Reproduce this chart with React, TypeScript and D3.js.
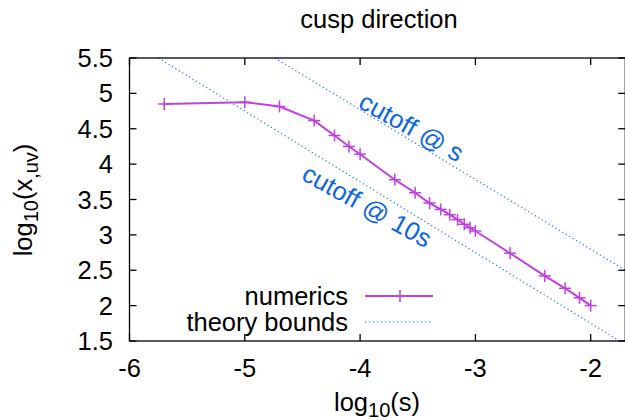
import React from 'react'
import * as d3 from 'd3'

const width = 625
const height = 420
const margin = {top: 58, right: 0, bottom: 79, left: 129.5}

// numerics: log10(s) vs log10(x_uv)
const logS = [-5.699, -5, -4.699, -4.398, -4.222, -4.097, -4, -3.699, -3.523, -3.398, -3.301,
  -3.222, -3.155, -3.097, -3.046, -3, -2.699, -2.398, -2.222, -2.097, -2]
const logXuv = [4.85, 4.875, 4.815, 4.615, 4.405, 4.25, 4.14, 3.78, 3.595, 3.45, 3.36,
  3.285, 3.215, 3.15, 3.1, 3.055, 2.74, 2.42, 2.245, 2.11, 2.0]

// theory bounds (end points of the dotted lines)
const cutoffSX = [-4.74, -1.7]
const cutoffSY = [5.5, 2.5]
const cutoff10sX = [-5.75, -1.75]
const cutoff10sY = [5.5, 1.5]

const xTicks = [-6, -5, -4, -3, -2]
const yTicks = [1.5, 2, 2.5, 3, 3.5, 4, 4.5, 5, 5.5]

const purple = '#c040e0'
const blue = '#0a64e6'
const dotBlue = '#2a78f0'
const font = '"Liberation Sans", Arial, sans-serif'
const fs = 25.5
const sub = 20

export default function App() {
  const x = d3.scaleLinear().domain([-6, -1.7]).range([margin.left, 625.3])
  const y = d3.scaleLinear().domain([1.5, 5.5]).range([height - margin.bottom, margin.top])

  const line = d3.line<number>().x((d, i) => x(logS[i])).y(d => y(d))
  const boundLine = (xs: number[], ys: number[]) =>
    d3.line<number>().x(d => x(d)).y((d, i) => y(ys[i]))(xs) || ''

  const x0 = x.range()[0], x1 = x.range()[1]
  const y0 = y.range()[0], y1 = y.range()[1]
  const tick = 7

  const cross = (cx: number, cy: number, key: any) => (
    <g key={key} stroke={purple} strokeWidth={1.5}>
      <line x1={cx - 6} x2={cx + 6} y1={cy} y2={cy} />
      <line x1={cx} x2={cx} y1={cy - 6} y2={cy + 6} />
    </g>
  )

  return (
    <svg width={width} height={height} style={{position: 'absolute', left: 0, top: 0, background: '#fff'}}
      fontFamily={font}>
      <defs>
        <clipPath id="plot">
          <rect x={x0} y={y1} width={x1 - x0} height={y0 - y1} />
        </clipPath>
      </defs>

      <text x={379} y={28} fontSize={fs} textAnchor="middle">cusp direction</text>

      {/* theory bounds */}
      <g clipPath="url(#plot)" fill="none" stroke={dotBlue} strokeWidth={1.2} strokeDasharray="1.3,2.7">
        <path d={boundLine(cutoffSX, cutoffSY)} />
        <path d={boundLine(cutoff10sX, cutoff10sY)} />
      </g>

      {/* numerics */}
      <path d={line(logXuv) || ''} fill="none" stroke={purple} strokeWidth={2} />
      {logXuv.map((v, i) => cross(x(logS[i]), y(v), i))}

      {/* rotated labels */}
      <text x={x(-3.554)} y={y(4.525)} fontSize={fs} fill={blue} textAnchor="middle" dominantBaseline="central"
        transform={`rotate(29, ${x(-3.554)}, ${y(4.525)})`}>cutoff @ s</text>
      <text x={x(-3.939)} y={y(3.411)} fontSize={fs} fill={blue} textAnchor="middle" dominantBaseline="central"
        transform={`rotate(29, ${x(-3.939)}, ${y(3.411)})`}>cutoff @ 10s</text>

      {/* legend */}
      <text x={348} y={305} fontSize={fs} textAnchor="end">numerics</text>
      <line x1={365} x2={433} y1={296} y2={296} stroke={purple} strokeWidth={2} />
      {cross(400, 296, 'leg')}
      <text x={348} y={331} fontSize={fs} textAnchor="end">theory bounds</text>
      <line x1={365} x2={433} y1={322} y2={322} stroke={dotBlue} strokeWidth={1.2} strokeDasharray="1.3,2.7" />

      {/* frame and ticks */}
      <g stroke="#000" strokeWidth={1.3}>
        {xTicks.map(t => (
          <g key={'xt' + t}>
            <line x1={x(t)} x2={x(t)} y1={y0} y2={y0 - tick} />
            <line x1={x(t)} x2={x(t)} y1={y1} y2={y1 + tick} />
          </g>
        ))}
        {yTicks.map(t => (
          <g key={'yt' + t}>
            <line x1={x0} x2={x0 + tick} y1={y(t)} y2={y(t)} />
            <line x1={x1} x2={x1 - tick} y1={y(t)} y2={y(t)} />
          </g>
        ))}
        <rect x={x0} y={y1} width={x1 - x0} height={y0 - y1} fill="none" />
      </g>

      {xTicks.map(t => (
        <text key={'xl' + t} x={x(t)} y={377} fontSize={fs} textAnchor="middle">{t}</text>
      ))}
      {yTicks.map(t => (
        <text key={'yl' + t} x={113} y={y(t) + 9} fontSize={fs} textAnchor="end">{t}</text>
      ))}

      <text x={377} y={411} fontSize={fs} textAnchor="middle">
        log<tspan fontSize={sub} dy={6}>10</tspan><tspan dy={-6}>(s)</tspan>
      </text>
      <text transform="translate(32, 200) rotate(-90)" fontSize={fs} textAnchor="middle">
        log<tspan fontSize={sub} dy={6}>10</tspan><tspan dy={-6}>(x</tspan>
        <tspan fontSize={sub} dy={6}>,uv</tspan><tspan dy={-6}>)</tspan>
      </text>
    </svg>
  )
}
